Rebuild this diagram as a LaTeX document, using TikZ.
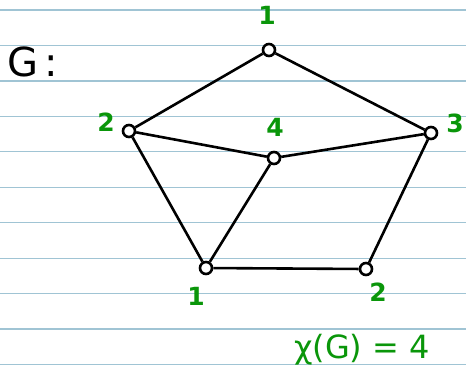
\documentclass[tikz,border=0pt]{standalone}
\usepackage{fontspec}
\setmainfont{DejaVu Sans}
\usetikzlibrary{positioning,calc}
\definecolor{rulecol}{RGB}{160,196,212}
\definecolor{penGreen}{RGB}{10,150,10}
\tikzset{
  vertex/.style={draw, circle, line width=2.6pt, minimum size=12pt, inner sep=0pt, fill=white},
  edge/.style={line width=2.6pt, line join=round},
  colour/.style={text=penGreen, font=\fontsize{25}{25}\selectfont\bfseries, inner sep=0pt},
  ruling/.style={rulecol, line width=1.2pt},
}
\begin{document}
\begin{tikzpicture}[x=1pt, y=-1pt]
  \useasboundingbox (0,0) rectangle (466,376);
  % ruled paper
  \foreach \k in {0,...,10}
    \draw[ruling] (0,{10+35.45*\k}) -- (466,{10+35.45*\k});

  % vertices
  \node[vertex] (top) at (269,50) {};
  \node[vertex] (left) at (129,131) {};
  \node[vertex] (mid) at (274,158) {};
  \node[vertex] (right) at (431,133) {};
  \node[vertex] (botl) at (206,268) {};
  \node[vertex] (botr) at (366,269) {};

  % colours
  \node[colour] (ctop) at ($(top)+(-2,-35)$) {1};
  \node[colour] (cleft) at ($(left)+(-23,-9)$) {2};
  \node[colour] (cmid) at ($(mid)+(1,-31)$) {4};
  \node[colour] (cright) at ($(right)+(24,-10)$) {3};
  \node[colour] (cbotl) at ($(botl)+(-10,28)$) {1};
  \node[colour] (cbotr) at ($(botr)+(12,23)$) {2};

  \node[font=\fontsize{40}{40}\selectfont, anchor=west, inner sep=0pt] (gname) at (7,62) {G\,:};
  \node[colour, font=\fontsize{32}{32}\selectfont] (chi) at (362,350) {χ(G) = 4};

  % edges
  \draw[edge] (top) -- (left);
  \draw[edge] (top) -- (right);
  \draw[edge] (left) -- (mid);
  \draw[edge] (mid) -- (right);
  \draw[edge] (left) -- (botl);
  \draw[edge] (mid) -- (botl);
  \draw[edge] (botl) -- (botr);
  \draw[edge] (botr) -- (right);
\end{tikzpicture}
\end{document}
